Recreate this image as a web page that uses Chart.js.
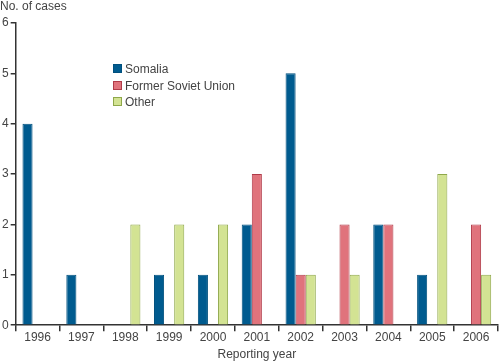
<!DOCTYPE html>
<html>
<head>
<meta charset="utf-8">
<script src="https://cdn.jsdelivr.net/npm/chart.js@4/dist/chart.umd.min.js"></script>
<style>
    html, body { margin: 0; padding: 0; background: #fff; }
    #wrap { position: relative; width: 500px; height: 364px; font-family: "Liberation Sans", Arial, sans-serif; color: #444; }
    #yTitle { position: absolute; left: 0; top: -1px; font-size: 12px; }
    #legend { position: absolute; left: 113px; top: 61px; font-size: 12px; }
    #legend div { height: 16.5px; line-height: 16px; }
    #legend span { display: inline-block; width: 7px; height: 7px; margin-right: 3px; vertical-align: 0px; border: 1px solid; }
</style>
</head>
<body>
<div id="wrap">
    <canvas id="chart" width="500" height="364"></canvas>
    <div id="yTitle">No. of cases</div>
    <div id="legend"></div>
</div>
<script>
// ========== DATA ==========
const years = ['1996', '1997', '1998', '1999', '2000', '2001', '2002', '2003', '2004', '2005', '2006'];
const somalia = [4, 1, 0, 1, 1, 2, 5, 0, 2, 1, 0];
const formerSovietUnion = [0, 0, 0, 0, 0, 3, 1, 2, 2, 0, 2];
const other = [0, 0, 2, 2, 2, 0, 1, 1, 0, 3, 1];
const yTicks = [0, 1, 2, 3, 4, 5, 6];

const seriesList = [
    { label: 'Somalia', data: somalia, fill: '#005b8f', line: '#00507e' },
    { label: 'Former Soviet Union', data: formerSovietUnion, fill: '#e0737c', line: '#b03a48' },
    { label: 'Other', data: other, fill: '#d3e393', line: '#8fa84a' }
];

const axisColor = '#333';
const textColor = '#444';
const fontFamily = '"Liberation Sans", Arial, sans-serif';

// Legend (HTML)
const legendBox = document.getElementById('legend');
seriesList.forEach(s => {
    const row = document.createElement('div');
    row.innerHTML = `<span style="background:${s.fill};border-color:${s.line}"></span>${s.label}`;
    legendBox.appendChild(row);
});

new Chart(document.getElementById('chart'), {
    type: 'bar',
    data: {
        labels: years,
        datasets: seriesList.map(s => ({
            label: s.label,
            data: s.data,
            backgroundColor: s.fill,
            borderColor: s.line,
            borderWidth: 1,
            borderSkipped: 'bottom',
            categoryPercentage: 0.69,
            barPercentage: 1.0
        }))
    },
    options: {
        responsive: false,
        animation: false,
        layout: { padding: { top: 23, right: 2, left: 0, bottom: 2 } },
        plugins: {
            legend: { display: false },
            tooltip: { enabled: false }
        },
        scales: {
            x: {
                grid: { display: true, drawOnChartArea: false, drawTicks: true, tickLength: 6, color: axisColor, lineWidth: 1.5, offset: true },
                border: { color: axisColor, width: 1.5 },
                ticks: { color: textColor, font: { family: fontFamily, size: 12 }, padding: -1, maxRotation: 0 },
                title: { display: true, text: 'Reporting year', color: textColor, font: { family: fontFamily, size: 12 }, padding: { top: 4, bottom: 0 } }
            },
            y: {
                min: 0,
                max: 6,
                afterBuildTicks: axis => { axis.ticks = yTicks.map(v => ({ value: v })); },
                grid: { display: true, drawOnChartArea: false, drawTicks: true, tickLength: 5, color: axisColor, lineWidth: 1.5 },
                border: { color: axisColor, width: 1.5 },
                ticks: { color: textColor, font: { family: fontFamily, size: 12 }, padding: 2 }
            }
        }
    }
});
</script>
</body>
</html>
